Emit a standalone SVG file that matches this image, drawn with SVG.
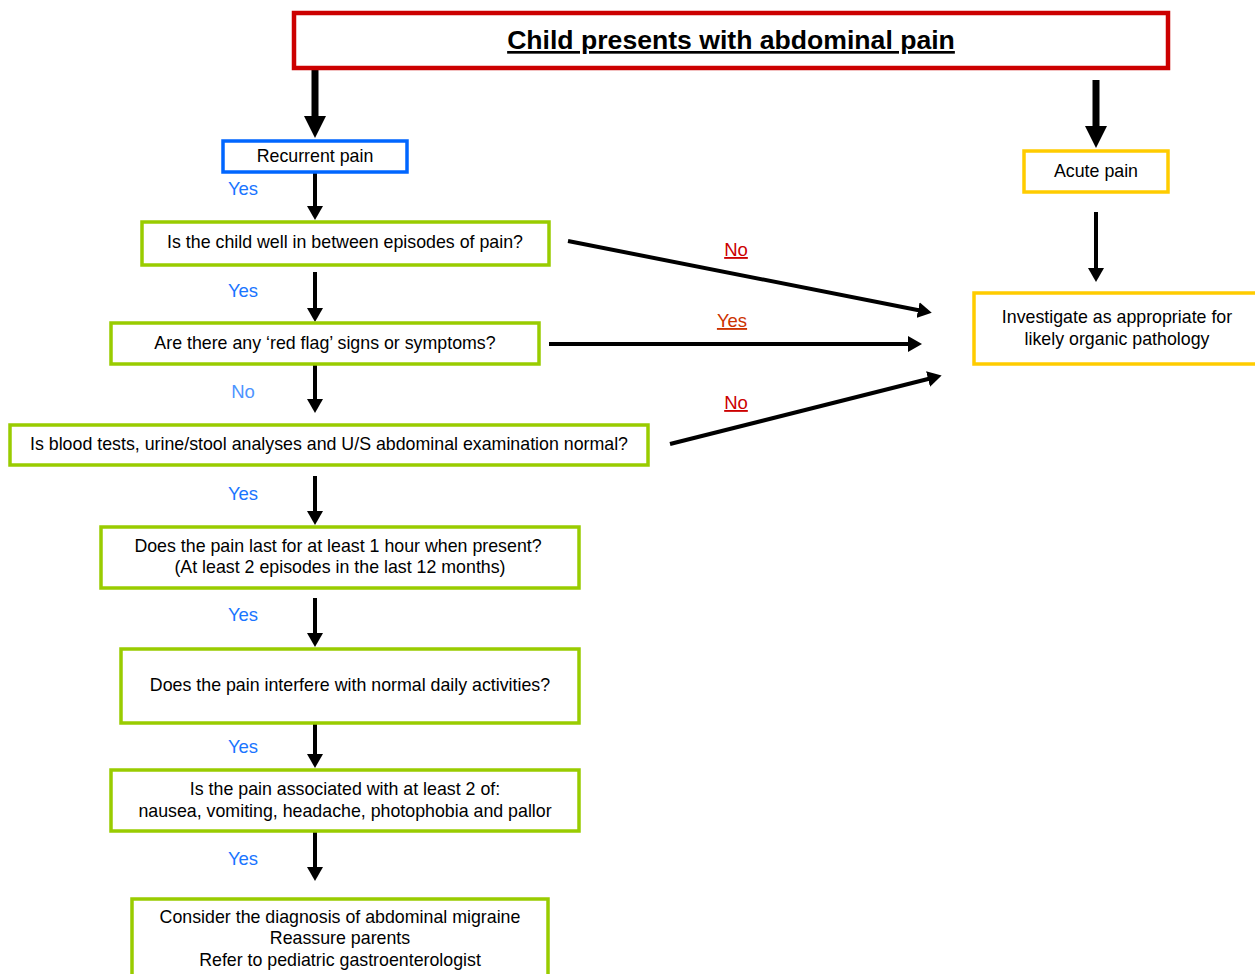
<svg xmlns="http://www.w3.org/2000/svg" width="1255" height="974" viewBox="0 0 1255 974">
<defs>
<marker id="ah" viewBox="0 0 14 16" refX="2" refY="8" markerWidth="14" markerHeight="16" markerUnits="userSpaceOnUse" orient="auto"><path d="M0,0 L14,8 L0,16 z" fill="#000"/></marker>
<marker id="ahb" viewBox="0 0 22 22" refX="2" refY="11" markerWidth="22" markerHeight="22" markerUnits="userSpaceOnUse" orient="auto"><path d="M0,0 L22,11 L0,22 z" fill="#000"/></marker>
</defs>
<style>
text{font-family:"Liberation Sans",Arial,sans-serif;font-size:17.8px;fill:#000;text-anchor:middle}
.title{font-size:26.6px;font-weight:bold;text-decoration:underline}
.g{fill:#fff;stroke:#99cc00;stroke-width:3.5}
.y{fill:#fff;stroke:#ffcc00;stroke-width:3.5}
.lbl{fill:#1a75ff;font-size:18.5px}
.lbl2{fill:#4d94ff;font-size:18.5px}
.red{fill:#cc0000;font-size:18.5px;text-decoration:underline}
.org{fill:#cc3300;font-size:18.5px;text-decoration:underline}
.c{stroke:#000;stroke-width:4;fill:none;marker-end:url(#ah)}
.cb{stroke:#000;stroke-width:7;fill:none;marker-end:url(#ahb)}
</style>
<g id="connectors">
<line class="cb" x1="315" y1="70" x2="315" y2="118"/>
<line class="cb" x1="1096" y1="80" x2="1096" y2="128"/>
<line class="c" x1="315" y1="172" x2="315" y2="208"/>
<line class="c" x1="315" y1="272" x2="315" y2="310"/>
<line class="c" x1="315" y1="364" x2="315" y2="401"/>
<line class="c" x1="315" y1="476" x2="315" y2="513"/>
<line class="c" x1="315" y1="598" x2="315" y2="635"/>
<line class="c" x1="315" y1="720" x2="315" y2="756"/>
<line class="c" x1="315" y1="832" x2="315" y2="869"/>
<line class="c" x1="1096" y1="212" x2="1096" y2="270"/>
<line class="c" x1="568" y1="241" x2="920" y2="310.5"/>
<line class="c" x1="549" y1="344" x2="910" y2="344"/>
<line class="c" x1="670" y1="444" x2="930" y2="378.5"/>
<text class="lbl" x="243" y="195">Yes</text>
<text class="lbl" x="243" y="297">Yes</text>
<text class="lbl2" x="243" y="398">No</text>
<text class="lbl" x="243" y="500">Yes</text>
<text class="lbl" x="243" y="621">Yes</text>
<text class="lbl" x="243" y="753">Yes</text>
<text class="lbl" x="243" y="865">Yes</text>
<text class="red" x="736" y="256">No</text>
<text class="org" x="732" y="327">Yes</text>
<text class="red" x="736" y="409">No</text>
</g>
<g id="n-start"><rect x="294" y="13" width="874" height="55" fill="#fff" stroke="#cc0000" stroke-width="4.5"/><text class="title" x="731" y="49">Child presents with abdominal pain</text></g>
<g id="n-recurrent"><rect x="223" y="141" width="184" height="31" fill="#fff" stroke="#0066ff" stroke-width="3.5"/><text x="315" y="162">Recurrent pain</text></g>
<g id="n-acute"><rect class="y" x="1024" y="151" width="144" height="41"/><text x="1096" y="177">Acute pain</text></g>
<g id="n-investigate"><rect class="y" x="974" y="293" width="290" height="71"/><text x="1117" y="323">Investigate as appropriate for</text><text x="1117" y="345">likely organic pathology</text></g>
<g id="n-well"><rect class="g" x="142" y="222" width="407" height="43"/><text x="345" y="248">Is the child well in between episodes of pain?</text></g>
<g id="n-redflag"><rect class="g" x="111" y="323" width="428" height="41"/><text x="325" y="349">Are there any ‘red flag’ signs or symptoms?</text></g>
<g id="n-tests"><rect class="g" x="10" y="425" width="638" height="40"/><text x="329" y="450">Is blood tests, urine/stool analyses and U/S abdominal examination normal?</text></g>
<g id="n-hour"><rect class="g" x="101" y="527" width="478" height="61"/><text x="338" y="552">Does the pain last for at least 1 hour when present?</text><text x="340" y="573">(At least 2 episodes in the last 12 months)</text></g>
<g id="n-interfere"><rect class="g" x="121" y="649" width="458" height="74"/><text x="350" y="691">Does the pain interfere with normal daily activities?</text></g>
<g id="n-assoc"><rect class="g" x="111" y="770" width="468" height="61"/><text x="345" y="795">Is the pain associated with at least 2 of:</text><text x="345" y="817">nausea, vomiting, headache, photophobia and pallor</text></g>
<g id="n-migraine"><rect class="g" x="132" y="899" width="416" height="90"/><text x="340" y="923">Consider the diagnosis of abdominal migraine</text><text x="340" y="944">Reassure parents</text><text x="340" y="966">Refer to pediatric gastroenterologist</text></g>
</svg>
